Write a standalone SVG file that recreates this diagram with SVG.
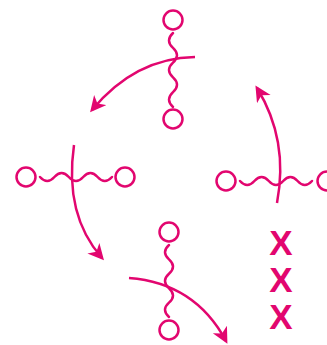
<svg xmlns="http://www.w3.org/2000/svg" width="327" height="345" viewBox="0 0 327 345">
<style>
.c{fill:none;stroke:#E2066F;stroke-width:2.5}
.w{fill:none;stroke:#E2066F;stroke-width:2.5;stroke-linecap:round}
.a{fill:none;stroke:#E2066F;stroke-width:2.5}
.x{fill:#E2066F;font-family:"Liberation Sans",Arial,sans-serif;font-weight:900;font-size:35px;text-anchor:middle}
</style>
<defs>
<marker id="ah" markerUnits="userSpaceOnUse" markerWidth="22" markerHeight="22" refX="13" refY="8" orient="auto">
<path d="M0,0 L16,8 L0,16 L4.5,8 Z" fill="#E2066F"/>
</marker>
</defs>
<rect width="327" height="345" fill="#fff"/>
<g id="node-top">
<circle class="c" cx="173" cy="20" r="9.5"/>
<circle class="c" cx="173" cy="119" r="9.5"/>
<path class="w" d="M173,33 q-8,7.4 0,14.8 t0,14.8 t0,14.8 t0,14.8 t0,14.8"/>
</g>
<g id="node-left">
<circle class="c" cx="26" cy="177" r="9.5"/>
<circle class="c" cx="125" cy="177" r="9.5"/>
<path class="w" d="M40,177 q7.2,8 14.4,0 t14.4,0 t14.4,0 t14.4,0 t14.4,0"/>
</g>
<g id="node-right">
<circle class="c" cx="226" cy="181" r="9.5"/>
<circle class="c" cx="327" cy="181" r="9.5"/>
<path class="w" d="M240,181 q7.2,8 14.4,0 t14.4,0 t14.4,0 t14.4,0 t14.4,0"/>
</g>
<g id="node-bottom">
<circle class="c" cx="169" cy="232" r="9.5"/>
<circle class="c" cx="169" cy="330" r="9.5"/>
<path class="w" d="M169,245 q-8,7.2 0,14.4 t0,14.4 t0,14.4 t0,14.4 t0,14.4"/>
</g>
<g id="connectors">
<path class="a" d="M195,57 Q135,58 92,110" marker-end="url(#ah)"/>
<path class="a" d="M74,145 Q64,215 102,258" marker-end="url(#ah)"/>
<path class="a" d="M277,203 Q289,140 257,88" marker-end="url(#ah)"/>
<path class="a" d="M129,278 Q195,283 226,341" marker-end="url(#ah)"/>
</g>
<g id="labels">
<text class="x" x="281" y="255">X</text>
<text class="x" x="281" y="292">X</text>
<text class="x" x="281" y="329">X</text>
</g>
</svg>
